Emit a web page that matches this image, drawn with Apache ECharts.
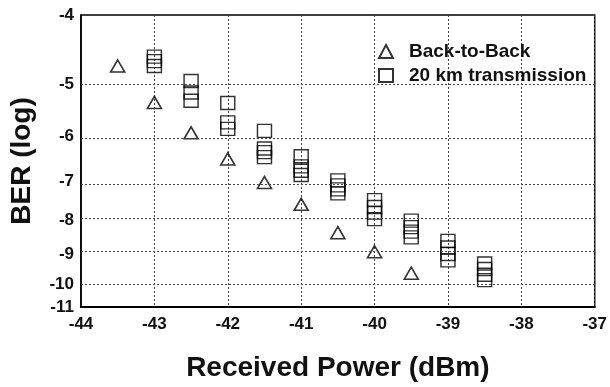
<!DOCTYPE html>
<html>
<head>
<meta charset="utf-8">
<script src="https://cdn.jsdelivr.net/npm/echarts@6/dist/echarts.min.js"></script>
<style>
html,body{margin:0;padding:0;background:#fff;}
#chart{width:610px;height:387px;}
</style>
</head>
<body>
<div id="chart"></div>
<script>
// ---- data (BER given as log10 exponent) ----
const seriesNames = ['Back-to-Back', '20 km transmission'];

const b2bPower = [-43.5, -43, -42.5, -42, -41.5, -41, -40.5, -40, -39.5];
const b2bBER   = [-4.7, -5.33, -5.92, -6.48, -7.03, -7.58, -8.36, -8.93, -9.62];

const tx20Power = [
  -43, -43, -43,
  -42.5, -42.5, -42.5,
  -42, -42, -42,
  -41.5, -41.5, -41.5, -41.5,
  -41, -41, -41, -41,
  -40.5, -40.5, -40.5, -40.5,
  -40, -40, -40, -40,
  -39.5, -39.5, -39.5, -39.5,
  -39, -39, -39, -39,
  -38.5, -38.5, -38.5, -38.5
];
const tx20BER = [
  -4.55, -4.62, -4.7,
  -4.95, -5.15, -5.3,
  -5.34, -5.71, -5.84,
  -5.88, -6.25, -6.33, -6.44,
  -6.42, -6.65, -6.75, -6.85,
  -6.98, -7.1, -7.2, -7.3,
  -7.47, -7.65, -7.8, -7.98,
  -8.02, -8.2, -8.33, -8.5,
  -8.6, -8.8, -9.0, -9.2,
  -9.3, -9.48, -9.67, -9.85
];

const xTicks = [-44, -43, -42, -41, -40, -39, -38, -37];
const yGridExps = [-5, -6, -7, -8, -9, -10];
const yEdgeExps = [-3.94, -10.81];       // frame edges, labelled -4 and -11
const yEdgeLabels = ['-4', '-11'];

// ---- BER scale: position = log10(-exponent) ----
const toY = e => Math.log10(-e);
const yMin = toY(yEdgeExps[0]);
const yMax = toY(yEdgeExps[1]);
const yLabelValues = [yMin].concat(yGridExps.map(toY), [yMax]);

const b2bData = b2bPower.map((p, i) => [p, toY(b2bBER[i])]);
const tx20Data = tx20Power.map((p, i) => [p, toY(tx20BER[i])]);

const FONT = '"Liberation Sans", Arial, Helvetica, sans-serif';

const chart = echarts.init(document.getElementById('chart'), null, {renderer: 'canvas'});
chart.setOption({
  animation: false,
  backgroundColor: '#fff',
  grid: {
    left: 80, right: 13, top: 15, bottom: 72,
    show: true, borderColor: '#000', borderWidth: 1.5, backgroundColor: 'transparent'
  },
  legend: {
    orient: 'vertical',
    left: 373, top: 37,
    itemWidth: 14, itemHeight: 13,
    itemGap: 5,
    textStyle: {
      fontFamily: FONT, fontWeight: 'bold', fontSize: 19, color: '#111', lineHeight: 19,
      padding: [0, 0, 0, 11]
    },
    data: seriesNames
  },
  xAxis: {
    type: 'value',
    min: xTicks[0], max: xTicks[xTicks.length - 1], interval: 1,
    name: 'Received Power (dBm)',
    nameLocation: 'middle', nameGap: 47,
    nameTextStyle: {fontFamily: FONT, fontWeight: 'bold', fontSize: 28, color: '#111'},
    axisLine: {show: true, lineStyle: {color: '#000', width: 2}},
    axisTick: {show: false},
    axisLabel: {
      margin: 9, fontFamily: FONT, fontWeight: 'bold', fontSize: 17, color: '#111',
      formatter: v => String(v)
    },
    splitLine: {show: true, lineStyle: {color: '#444', width: 1, type: [2, 2]}}
  },
  yAxis: {
    type: 'value',
    inverse: true,
    min: yMin, max: yMax,
    name: 'BER (log)',
    nameLocation: 'middle', nameGap: 45,
    nameTextStyle: {fontFamily: FONT, fontWeight: 'bold', fontSize: 28, color: '#111'},
    axisLine: {show: true, lineStyle: {color: '#000', width: 1.5}},
    axisTick: {show: false},
    axisLabel: {
      customValues: yLabelValues,
      margin: 7, fontFamily: FONT, fontWeight: 'bold', fontSize: 17, color: '#111',
      formatter: v => {
        if (Math.abs(v - yMin) < 1e-9) return yEdgeLabels[0];
        if (Math.abs(v - yMax) < 1e-9) return yEdgeLabels[1];
        return '-' + Math.round(Math.pow(10, v));
      }
    },
    splitLine: {show: false}
  },
  series: [
    {
      name: seriesNames[0],
      type: 'scatter',
      symbol: 'triangle',
      symbolSize: [14, 12],
      itemStyle: {color: 'rgba(255,255,255,0)', borderColor: '#000', borderWidth: 1.6},
      data: b2bData,
      z: 3
    },
    {
      name: seriesNames[1],
      type: 'scatter',
      symbol: 'rect',
      symbolSize: [14, 13],
      itemStyle: {color: 'rgba(255,255,255,0)', borderColor: '#000', borderWidth: 1.4},
      data: tx20Data,
      z: 3
    },
    {
      name: 'grid',
      type: 'scatter',
      data: [],
      silent: true,
      markLine: {
        silent: true,
        symbol: 'none',
        label: {show: false},
        lineStyle: {color: '#444', width: 1, type: [2, 2]},
        data: yGridExps.map(e => ({yAxis: toY(e)}))
      },
      z: 1
    }
  ]
});
</script>
</body>
</html>
